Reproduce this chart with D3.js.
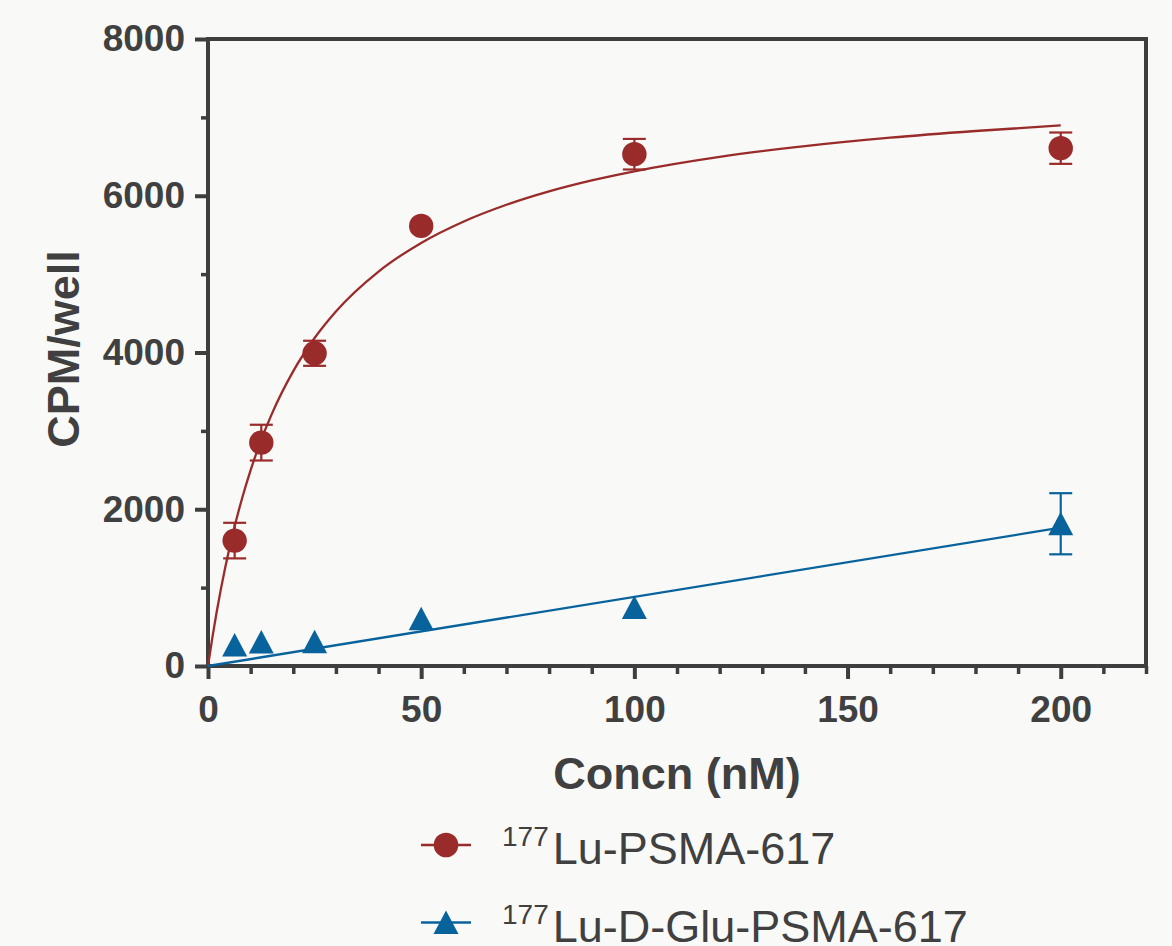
<!DOCTYPE html>
<html>
<head>
<meta charset="utf-8">
<script src="https://cdn.jsdelivr.net/npm/d3@7"></script>
<style>
  html, body { margin: 0; padding: 0; background: #f9f9f8; }
  svg { display: block; }
  text { font-family: "Liberation Sans", Arial, sans-serif; fill: #404040; }
</style>
</head>
<body>
<svg id="chart" width="1172" height="946"></svg>
<script>
// ---- data ----
const concn = [6.25, 12.5, 25, 50, 100, 200];
const psmaMean = [1600, 2850, 3990, 5615, 6530, 6607];
const psmaErr = [227, 228, 160, 60, 195, 200];
const dgluMean = [268, 306, 310, 604, 746, 1815];
const dgluErr = [40, 40, 40, 40, 60, 390];

// fitted curves
const psmaFitX = [0, 1, 2, 3, 4, 6, 8, 10, 12.5, 15, 20, 25, 30, 40, 50, 60, 70, 80, 90, 100, 120, 140, 160, 180, 200];
const psmaFitY = [0, 355, 679, 974, 1246, 1727, 2141, 2500, 2888, 3220, 3762, 4185, 4524, 5033, 5398, 5672, 5885, 6056, 6196, 6312, 6496, 6633, 6741, 6826, 6897];
const dgluFitX = [0, 200];
const dgluFitY = [0, 1765];

const xMajorTicks = [0, 50, 100, 150, 200];
const xMinorTicks = [10, 20, 30, 40, 60, 70, 80, 90, 110, 120, 130, 140, 160, 170, 180, 190, 210, 220];
const yMajorTicks = [0, 2000, 4000, 6000, 8000];
const yMinorTicks = [1000, 3000, 5000, 7000];

const seriesNames = ["Lu-PSMA-617", "Lu-D-Glu-PSMA-617"];
const seriesSup = ["177", "177"];
const xTitle = "Concn (nM)";
const yTitle = "CPM/well";

// ---- layout ----
const RED = "#992b2a", BLUE = "#08639c", AXIS = "#3e3e3e";
const plotL = 208, plotR = 1146, plotT = 39, plotB = 666;
const MARKER_HALF = 12;

const svg = d3.select("#chart");
const x = d3.scaleLinear().domain([0, 220]).range([plotL, plotR]);
const y = d3.scaleLinear().domain([0, 8000]).range([plotB, plotT]);

// minor ticks
svg.append("g").attr("transform", `translate(0,${plotB})`)
  .call(d3.axisBottom(x).tickValues(xMinorTicks).tickSize(8).tickFormat(""))
  .call(g => g.select(".domain").remove())
  .call(g => g.selectAll("line").attr("stroke", AXIS).attr("stroke-width", 3.5));
svg.append("g").attr("transform", `translate(${plotL},0)`)
  .call(d3.axisLeft(y).tickValues(yMinorTicks).tickSize(7).tickFormat(""))
  .call(g => g.select(".domain").remove())
  .call(g => g.selectAll("line").attr("stroke", AXIS).attr("stroke-width", 3.5));

// major ticks + labels
svg.append("g").attr("transform", `translate(0,${plotB})`)
  .call(d3.axisBottom(x).tickValues(xMajorTicks).tickSize(13).tickPadding(17).tickFormat(d3.format("d")))
  .call(g => g.select(".domain").remove())
  .call(g => g.selectAll("line").attr("stroke", AXIS).attr("stroke-width", 4))
  .call(g => g.selectAll("text").attr("fill", "#404040").style("font-size", "37px").style("font-weight", "bold")
      .style("font-family", '"Liberation Sans", Arial, sans-serif'));
svg.append("g").attr("transform", `translate(${plotL},0)`)
  .call(d3.axisLeft(y).tickValues(yMajorTicks).tickSize(13).tickPadding(10).tickFormat(d3.format("d")))
  .call(g => g.select(".domain").remove())
  .call(g => g.selectAll("line").attr("stroke", AXIS).attr("stroke-width", 4))
  .call(g => g.selectAll("text").attr("fill", "#404040").style("font-size", "37px").style("font-weight", "bold")
      .style("font-family", '"Liberation Sans", Arial, sans-serif'));

// frame
svg.append("rect")
  .attr("x", plotL).attr("y", plotT)
  .attr("width", plotR - plotL).attr("height", plotB - plotT)
  .attr("fill", "none").attr("stroke", AXIS).attr("stroke-width", 4);

// axis titles
svg.append("text")
  .attr("x", (plotL + plotR) / 2).attr("y", 789)
  .attr("text-anchor", "middle")
  .style("font-size", "45px").style("font-weight", "bold")
  .text(xTitle);
svg.append("text")
  .attr("transform", "translate(79,349) rotate(-90)")
  .attr("text-anchor", "middle")
  .style("font-size", "45px").style("font-weight", "bold")
  .text(yTitle);

// fit lines
const line = d3.line().x(d => x(d[0])).y(d => y(d[1])).curve(d3.curveMonotoneX);
svg.append("path")
  .datum(psmaFitX.map((v, i) => [v, psmaFitY[i]]))
  .attr("d", line).attr("fill", "none").attr("stroke", RED).attr("stroke-width", 2.3);
svg.append("path")
  .datum(dgluFitX.map((v, i) => [v, dgluFitY[i]]))
  .attr("d", line).attr("fill", "none").attr("stroke", BLUE).attr("stroke-width", 2.3);

// error bars (hidden when shorter than the marker, as in the reference)
function errorBars(means, errs, color) {
  const g = svg.append("g").attr("stroke", color).attr("stroke-width", 2.2);
  concn.forEach((c, i) => {
    const cx = x(c), y1 = y(means[i] + errs[i]), y2 = y(means[i] - errs[i]);
    if (Math.abs(y2 - y1) / 2 < MARKER_HALF) return;
    g.append("line").attr("x1", cx).attr("x2", cx).attr("y1", y1).attr("y2", y2);
    g.append("line").attr("x1", cx - 11.5).attr("x2", cx + 11.5).attr("y1", y1).attr("y2", y1);
    g.append("line").attr("x1", cx - 11.5).attr("x2", cx + 11.5).attr("y1", y2).attr("y2", y2);
  });
}
errorBars(psmaMean, psmaErr, RED);
errorBars(dgluMean, dgluErr, BLUE);

const triPath = "M0,-12L12.5,11.5L-12.5,11.5Z";

// markers
svg.append("g").selectAll("circle")
  .data(concn.map((c, i) => [c, psmaMean[i]]))
  .join("circle")
  .attr("cx", d => x(d[0])).attr("cy", d => y(d[1])).attr("r", 12.2)
  .attr("fill", RED);
svg.append("g").selectAll("path")
  .data(concn.map((c, i) => [c, dgluMean[i]]))
  .join("path")
  .attr("transform", d => `translate(${x(d[0])},${y(d[1])})`)
  .attr("d", triPath).attr("fill", BLUE);

// legend
const legendY = [845, 922.5];
const colors = [RED, BLUE];
seriesNames.forEach((name, i) => {
  const g = svg.append("g").attr("transform", `translate(0,${legendY[i]})`);
  g.append("line").attr("x1", 421).attr("x2", 471).attr("y1", 0).attr("y2", 0)
    .attr("stroke", colors[i]).attr("stroke-width", 2.5);
  if (i === 0) {
    g.append("circle").attr("cx", 446).attr("cy", 0).attr("r", 12.3).attr("fill", colors[i]);
  } else {
    g.append("path").attr("transform", "translate(446,0)").attr("d", triPath).attr("fill", colors[i]);
  }
  const t = g.append("text").attr("x", 502).attr("y", 19);
  t.append("tspan").style("font-size", "28px").attr("dy", -18).text(seriesSup[i]);
  t.append("tspan").style("font-size", "45px").attr("dx", 4).attr("dy", 18).text(name);
});
</script>
</body>
</html>
